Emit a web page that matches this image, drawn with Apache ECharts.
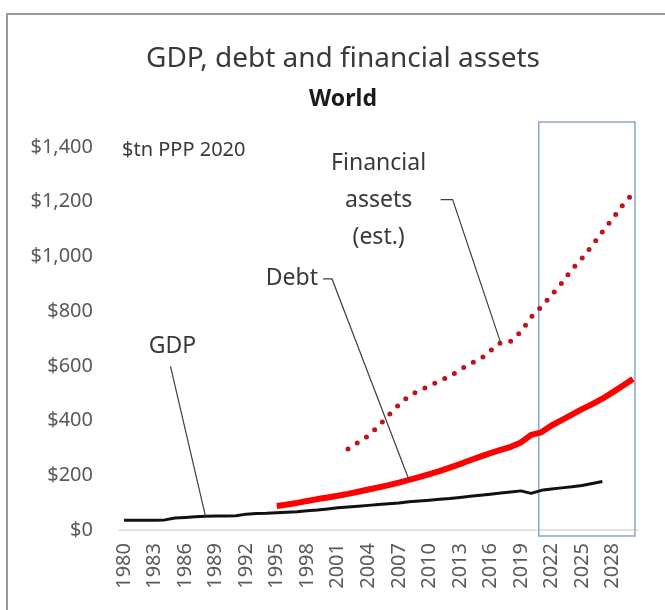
<!DOCTYPE html>
<html>
<head>
<meta charset="utf-8">
<script src="https://cdn.jsdelivr.net/npm/echarts@6/dist/echarts.min.js"></script>
<style>
  html, body { margin: 0; padding: 0; background: #ffffff; }
  #chart { width: 665px; height: 610px; }
</style>
</head>
<body>
<div id="chart"></div>
<script>
// Years on the category axis (1980–2030)
const years = [
  '1980','1981','1982','1983','1984','1985','1986','1987','1988','1989',
  '1990','1991','1992','1993','1994','1995','1996','1997','1998','1999',
  '2000','2001','2002','2003','2004','2005','2006','2007','2008','2009',
  '2010','2011','2012','2013','2014','2015','2016','2017','2018','2019',
  '2020','2021','2022','2023','2024','2025','2026','2027','2028','2029',
  '2030'
];

// Value-axis tick labels ($tn, PPP 2020 prices)
const yTickLabels = ['$0', '$200', '$400', '$600', '$800', '$1,000', '$1,200', '$1,400'];

// World GDP, 1980–2027
const gdpStart = '1980';
const gdpValues = [
  36, 36, 36, 36, 37, 44, 46, 48, 50, 51,
  51, 52, 58, 60, 61, 63, 65, 67, 70, 73,
  77, 81, 84, 87, 90, 93, 96, 99, 103, 106,
  109, 112, 115, 119, 123, 127, 131, 135, 139, 143,
  134, 145, 150, 154, 158, 163, 170, 177
];

// World debt, 1995–2030
const debtStart = '1995';
const debtValues = [
  88, 93, 99, 106, 113,
  119, 125, 132, 140, 148, 156, 164, 173, 183, 193,
  204, 215, 228, 241, 255, 268, 281, 293, 304, 320,
  348, 357, 382, 402, 422, 442, 460, 480, 503, 527,
  552
];

// World financial assets (estimated), 2002–2030
const assetsStart = '2002';
const assetsValues = [
  296, 320, 344, 380, 420, 458, 490, 510,
  526, 545, 562, 585, 608, 624, 655, 685, 690, 725,
  778, 816, 858, 902, 952, 993, 1040, 1090, 1138, 1188,
  1230
];

// Forecast period outlined on the chart
const forecastYears = ['2021', '2030'];

// Callout labels and the point each leader line points to
const calloutTexts = ['GDP', 'Debt', 'Financial\nassets\n(est.)'];
const calloutYears = ['1988', '2008', '2017'];
const calloutSeries = ['gdp', 'debt', 'assets'];

// Spread a series over the full year list, leaving gaps where it has no data
function pad(startYear, values) {
  const offset = years.indexOf(startYear);
  return years.map((y, i) => {
    const k = i - offset;
    return k >= 0 && k < values.length ? values[k] : null;
  });
}

const seriesData = {
  gdp: pad(gdpStart, gdpValues),
  debt: pad(debtStart, debtValues),
  assets: pad(assetsStart, assetsValues)
};

const calloutData = calloutTexts.map((t, i) => {
  const yi = years.indexOf(calloutYears[i]);
  return { value: [calloutYears[i], seriesData[calloutSeries[i]][yi]], text: t };
});

// Leader-line geometry, in pixels relative to the target point
const calloutLayout = [
  { line: [[-35, -150], [0, 0]], text: [-33, -170], align: 'center' },
  { line: [[-86, -201], [-77, -201], [0, 0]], text: [-91, -201], align: 'right' },
  { line: [[-60, -143], [-48, -143], [0, 0]], text: [-122, -142], align: 'center' }
];

const FONT = '"Noto Sans", "Open Sans", sans-serif';
const chart = echarts.init(document.getElementById('chart'), null, { renderer: 'canvas' });

chart.setOption({
  backgroundColor: '#ffffff',
  animation: false,
  title: [
    {
      text: 'GDP, debt and financial assets',
      left: 338, top: 40, textAlign: 'center',
      textStyle: { fontFamily: FONT, fontSize: 28, fontWeight: 'normal', color: '#3a3a3a' }
    },
    {
      text: 'World',
      left: 338, top: 83, textAlign: 'center',
      textStyle: { fontFamily: FONT, fontSize: 23, fontWeight: 'bold', color: '#1a1a1a' }
    },
    {
      text: '$tn PPP 2020',
      left: 117, top: 135,
      textStyle: { fontFamily: FONT, fontSize: 20, fontWeight: 'normal', color: '#3a3a3a' }
    }
  ],
  graphic: [
    {
      type: 'rect',
      shape: { x: 7, y: 14, width: 700, height: 700 },
      style: { fill: 'none', stroke: '#9a9a9a', lineWidth: 2 },
      silent: true
    }
  ],
  grid: { left: 119, right: 27, top: 147, bottom: 80, containLabel: false },
  xAxis: {
    type: 'category',
    data: years,
    boundaryGap: true,
    axisLine: { lineStyle: { color: '#d9d9d9', width: 1.5 } },
    axisTick: { show: false },
    axisLabel: {
      interval: 2,
      rotate: 90,
      margin: 13,
      fontFamily: FONT,
      fontSize: 20,
      color: '#595959'
    },
    splitLine: { show: false }
  },
  yAxis: {
    type: 'value',
    min: 0, max: 1400, interval: 200,
    axisLine: { show: false },
    axisTick: { show: false },
    splitLine: { show: false },
    axisLabel: {
      margin: 26,
      fontFamily: FONT,
      fontSize: 20,
      color: '#595959',
      formatter: v => yTickLabels[Math.round(v / 200)]
    }
  },
  series: [
    {
      name: 'GDP',
      type: 'line',
      data: seriesData.gdp,
      showSymbol: false,
      connectNulls: false,
      lineStyle: { color: '#111111', width: 3 },
      z: 3
    },
    {
      name: 'Debt',
      type: 'line',
      data: seriesData.debt,
      showSymbol: false,
      lineStyle: { color: '#ff0000', width: 6 },
      z: 4
    },
    {
      name: 'Financial assets (est.)',
      type: 'line',
      data: seriesData.assets,
      showSymbol: false,
      lineStyle: { color: '#c0141c', width: 5, type: [0, 11], cap: 'round' },
      z: 4
    },
    {
      // Outline around the forecast years
      name: 'Forecast',
      type: 'custom',
      clip: false,
      silent: true,
      z: 2,
      data: [[forecastYears[0], forecastYears[1]]],
      encode: { x: [0, 1] },
      renderItem: (params, api) => {
        const band = api.size([1, 0])[0];
        const cs = params.coordSys;
        const x0 = api.coord([api.value(0), 0])[0] - band * 0.25;
        const x1 = api.coord([api.value(1), 0])[0] + band * 0.2;
        return {
          type: 'rect',
          shape: { x: x0, y: cs.y - 25, width: x1 - x0, height: cs.height + 31 },
          style: { fill: 'none', stroke: '#8ea6c4', lineWidth: 1.5 }
        };
      }
    },
    {
      // Callout labels with leader lines
      name: 'Callouts',
      type: 'custom',
      clip: false,
      silent: true,
      z: 5,
      data: calloutData,
      encode: { x: 0, y: 1 },
      renderItem: (params, api) => {
        const p = api.coord([api.value(0), api.value(1)]);
        const lay = calloutLayout[params.dataIndex];
        const pts = lay.line.map(d => [p[0] + d[0], p[1] + d[1]]);
        return {
          type: 'group',
          children: [
            {
              type: 'polyline',
              shape: { points: pts },
              style: { stroke: '#404040', lineWidth: 1.2, fill: 'none' }
            },
            {
              type: 'text',
              x: p[0] + lay.text[0],
              y: p[1] + lay.text[1],
              style: {
                text: calloutData[params.dataIndex].text,
                fill: '#3a3a3a',
                font: '23px ' + FONT,
                align: lay.align,
                verticalAlign: 'middle',
                textAlign: lay.align,
                textVerticalAlign: 'middle',
                lineHeight: 37
              }
            }
          ]
        };
      }
    }
  ]
});
</script>
</body>
</html>
